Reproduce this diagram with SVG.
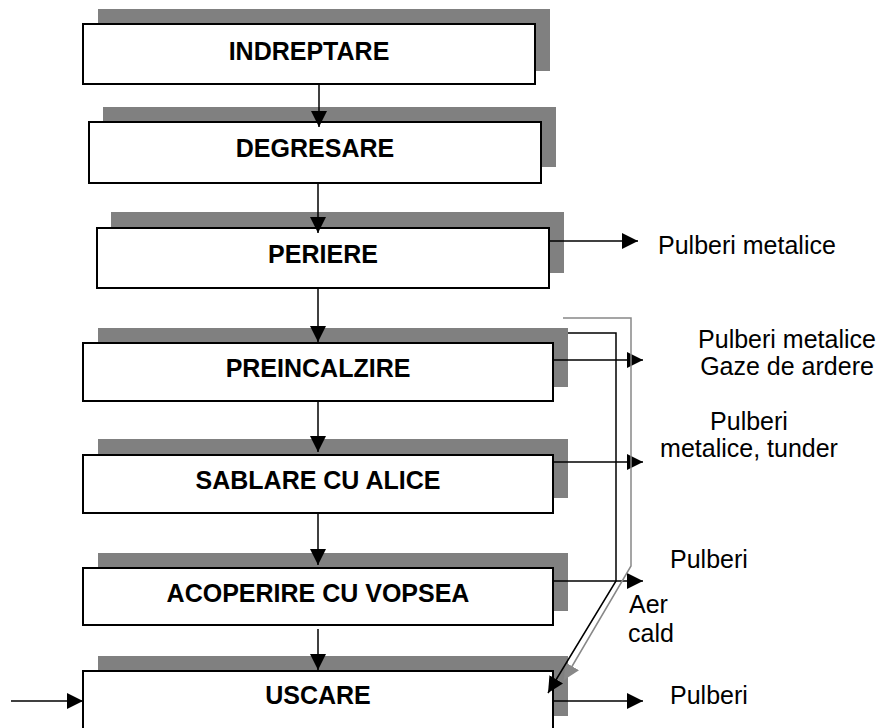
<svg xmlns="http://www.w3.org/2000/svg" width="878" height="728" viewBox="0 0 878 728">
  <style>
    .shadow { fill: #808080; stroke: none; }
    .box { fill: #ffffff; stroke: #000000; stroke-width: 2; }
    .title { font-family: "Liberation Sans", Arial, sans-serif; font-weight: bold; font-size: 25px; fill: #000000; text-anchor: middle; }
    .label { font-family: "Liberation Sans", Arial, sans-serif; font-size: 25px; fill: #000000; }
    .conn { fill: none; stroke: #000000; stroke-width: 1.5; }
    .gray { fill: none; stroke: #888888; stroke-width: 1.5; }
  </style>
  <defs>
    <marker id="arr" markerUnits="userSpaceOnUse" markerWidth="18" markerHeight="18" refX="16" refY="8" orient="auto">
      <path d="M0,0 L16,8 L0,16 z" fill="#000000"/>
    </marker>
    <marker id="arrg" markerUnits="userSpaceOnUse" markerWidth="18" markerHeight="18" refX="16" refY="8" orient="auto">
      <path d="M0,0 L16,8 L0,16 z" fill="#888888"/>
    </marker>
  </defs>

  <rect width="878" height="728" fill="#ffffff"/>

  <g id="node-indreptare">
    <rect class="shadow" x="98" y="9" width="452" height="62"/>
    <rect class="box" x="83" y="24" width="452" height="60"/>
    <text class="title" x="309" y="60">INDREPTARE</text>
  </g>
  <g id="node-degresare">
    <rect class="shadow" x="103" y="107" width="453" height="60"/>
    <rect class="box" x="89" y="122" width="452" height="61"/>
    <text class="title" x="315" y="157">DEGRESARE</text>
  </g>
  <g id="node-periere">
    <rect class="shadow" x="111" y="212" width="453" height="61"/>
    <rect class="box" x="97" y="228" width="452" height="60"/>
    <text class="title" x="323" y="263">PERIERE</text>
  </g>
  <g id="node-preincalzire">
    <rect class="shadow" x="98" y="328" width="470" height="59"/>
    <rect class="box" x="83" y="343" width="470" height="58"/>
    <text class="title" x="318" y="377">PREINCALZIRE</text>
  </g>
  <g id="node-sablare">
    <rect class="shadow" x="98" y="439" width="470" height="59"/>
    <rect class="box" x="83" y="455" width="470" height="58"/>
    <text class="title" x="318" y="489">SABLARE CU ALICE</text>
  </g>
  <g id="node-acoperire">
    <rect class="shadow" x="98" y="553" width="470" height="58"/>
    <rect class="box" x="83" y="568" width="470" height="57"/>
    <text class="title" x="318" y="602">ACOPERIRE CU VOPSEA</text>
  </g>
  <g id="node-uscare">
    <rect class="shadow" x="98" y="656" width="470" height="60"/>
    <rect class="box" x="83" y="671" width="470" height="70"/>
    <text class="title" x="318" y="704">USCARE</text>
  </g>

  <g id="labels">
    <text class="label" x="658" y="254">Pulberi metalice</text>
    <text class="label" x="787" y="348" text-anchor="middle">Pulberi metalice</text>
    <text class="label" x="787" y="375" text-anchor="middle">Gaze de ardere</text>
    <text class="label" x="749" y="430" text-anchor="middle">Pulberi</text>
    <text class="label" x="749" y="457" text-anchor="middle">metalice, tunder</text>
    <text class="label" x="670" y="568">Pulberi</text>
    <text class="label" x="629" y="613">Aer</text>
    <text class="label" x="628" y="642">cald</text>
    <text class="label" x="670" y="704">Pulberi</text>
  </g>

  <g id="connectors">
    <line class="conn" x1="319" y1="84" x2="319" y2="127" marker-end="url(#arr)"/>
    <line class="conn" x1="318" y1="183" x2="318" y2="233" marker-end="url(#arr)"/>
    <line class="conn" x1="318" y1="288" x2="318" y2="342" marker-end="url(#arr)"/>
    <line class="conn" x1="318" y1="401" x2="318" y2="452" marker-end="url(#arr)"/>
    <line class="conn" x1="318" y1="513" x2="318" y2="565" marker-end="url(#arr)"/>
    <line class="conn" x1="318" y1="629" x2="318" y2="670" marker-end="url(#arr)"/>

    <line class="conn" x1="549" y1="241" x2="638" y2="241" marker-end="url(#arr)"/>
    <line class="conn" x1="553" y1="360" x2="643" y2="360" marker-end="url(#arr)"/>
    <line class="conn" x1="553" y1="462" x2="643" y2="462" marker-end="url(#arr)"/>
    <line class="conn" x1="553" y1="581" x2="643" y2="581" marker-end="url(#arr)"/>
    <line class="conn" x1="553" y1="701" x2="643" y2="701" marker-end="url(#arr)"/>
    <line class="conn" x1="11" y1="701" x2="83" y2="701" marker-end="url(#arr)"/>

    <polyline class="gray" points="563,318 631,318 631,566 564,680" marker-end="url(#arrg)"/>
    <polyline class="conn" points="568,333 616,333 616,581 548,693" marker-end="url(#arr)"/>
  </g>
</svg>
